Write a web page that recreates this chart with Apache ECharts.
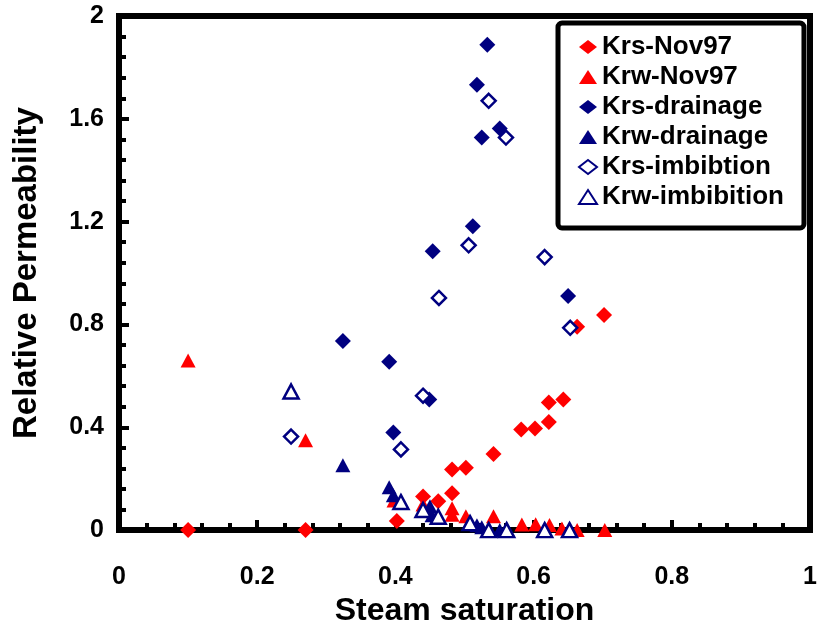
<!DOCTYPE html>
<html>
<head>
<meta charset="utf-8">
<script src="https://cdn.jsdelivr.net/npm/echarts@6/dist/echarts.min.js"></script>
<style>html,body{margin:0;padding:0;background:#fff}#c{width:820px;height:632px}</style>
</head>
<body>
<div id="c"></div>
<script>
// Data: [steam saturation, relative permeability]
const krsNov97 = [[0.1,0],[0.27,0],[0.402,0.035],[0.44,0.131],[0.462,0.112],[0.482,0.143],[0.482,0.236],[0.502,0.243],[0.542,0.296],[0.582,0.391],[0.602,0.395],[0.622,0.421],[0.622,0.496],[0.643,0.508],[0.663,0.791],[0.702,0.837]];
const krwNov97 = [[0.1,0.66],[0.27,0.35],[0.398,0.115],[0.44,0.1],[0.482,0.085],[0.482,0.06],[0.502,0.054],[0.542,0.054],[0.583,0.022],[0.603,0.023],[0.623,0.02],[0.641,0.006],[0.663,0.0],[0.703,0.0]];
const krsDrainage = [[0.533,1.888],[0.518,1.733],[0.551,1.562],[0.525,1.527],[0.512,1.182],[0.454,1.085],[0.650,0.911],[0.324,0.736],[0.391,0.655],[0.397,0.380],[0.449,0.508]];
const krwDrainage = [[0.324,0.252],[0.391,0.167],[0.397,0.136],[0.450,0.093],[0.453,0.058],[0.518,0.019],[0.525,0.011],[0.551,0.0]];
const krsImbibtion = [[0.535,1.670],[0.560,1.527],[0.506,1.108],[0.616,1.062],[0.463,0.903],[0.653,0.787],[0.440,0.523],[0.408,0.314],[0.249,0.364]];
const krwImbibition = [[0.249,0.539],[0.408,0.109],[0.440,0.078],[0.462,0.052],[0.508,0.027],[0.535,0.0],[0.561,0.0],[0.616,0.0],[0.652,0.0]];
const seriesNames = ['Krs-Nov97','Krw-Nov97','Krs-drainage','Krw-drainage','Krs-imbibtion','Krw-imbibition'];
const xTitle = 'Steam saturation';
const yTitle = 'Relative Permeability';

const FONT = '"Liberation Sans", Arial, sans-serif';
const RED = '#FF0000', NAVY = '#000080';
const chart = echarts.init(document.getElementById('c'), null, {renderer:'canvas'});
function axisCommon(){
  return {
    axisLine:{show:true, onZero:false, lineStyle:{color:'#000', width:6}},
    axisTick:{show:true, inside:true, length:10, lineStyle:{color:'#000', width:4}},
    minorTick:{show:true, splitNumber:5, length:7, lineStyle:{color:'#000', width:4}},
    splitLine:{show:false},
    axisLabel:{color:'#000', fontFamily:FONT, fontWeight:'bold', fontSize:25},
    nameTextStyle:{color:'#000', fontFamily:FONT, fontWeight:'bold', fontSize:32},
    nameLocation:'middle'
  };
}
const xa = axisCommon();
Object.assign(xa, {type:'value', min:0, max:1, interval:0.2, name:xTitle, nameGap:60});
xa.axisLabel.margin = 35;
const ya = axisCommon();
Object.assign(ya, {type:'value', min:0, max:2, interval:0.4, name:yTitle, nameGap:76});
ya.axisLabel.margin = 15;
ya.nameTextStyle.fontSize = 33;

function sc(name, data, symbol, size, filled, color){
  return {
    type:'scatter', name, data, symbol, symbolSize:size,
    itemStyle: filled ? {color:color, borderWidth:0, opacity:1} : {color:'#fff', borderColor:color, borderWidth:2.5, opacity:1},
    emphasis:{disabled:true}
  };
}
chart.setOption({
  animation:false,
  backgroundColor:'#fff',
  grid:{left:119, top:16, right:10, bottom:100, show:true, borderColor:'#000', borderWidth:6, backgroundColor:'#fff'},
  xAxis:xa,
  yAxis:ya,
  legend:{
    orient:'vertical', left:558, top:23,
    padding:[11, 20, 18, 20],
    itemGap:4, itemWidth:18, itemHeight:14,
    borderColor:'#000', borderWidth:5, borderRadius:4, backgroundColor:'#fff',
    textStyle:{color:'#000', fontFamily:FONT, fontWeight:'bold', fontSize:26, lineHeight:26},
    data:seriesNames
  },
  series:[
    sc(seriesNames[0], krsNov97, 'diamond', 16, true, RED),
    sc(seriesNames[1], krwNov97, 'triangle', [15,14], true, RED),
    sc(seriesNames[2], krsDrainage, 'diamond', 16, true, NAVY),
    sc(seriesNames[3], krwDrainage, 'triangle', [15,14], true, NAVY),
    sc(seriesNames[4], krsImbibtion, 'diamond', 14, false, NAVY),
    sc(seriesNames[5], krwImbibition, 'triangle', [15,14], false, NAVY)
  ]
});
</script>
</body>
</html>
